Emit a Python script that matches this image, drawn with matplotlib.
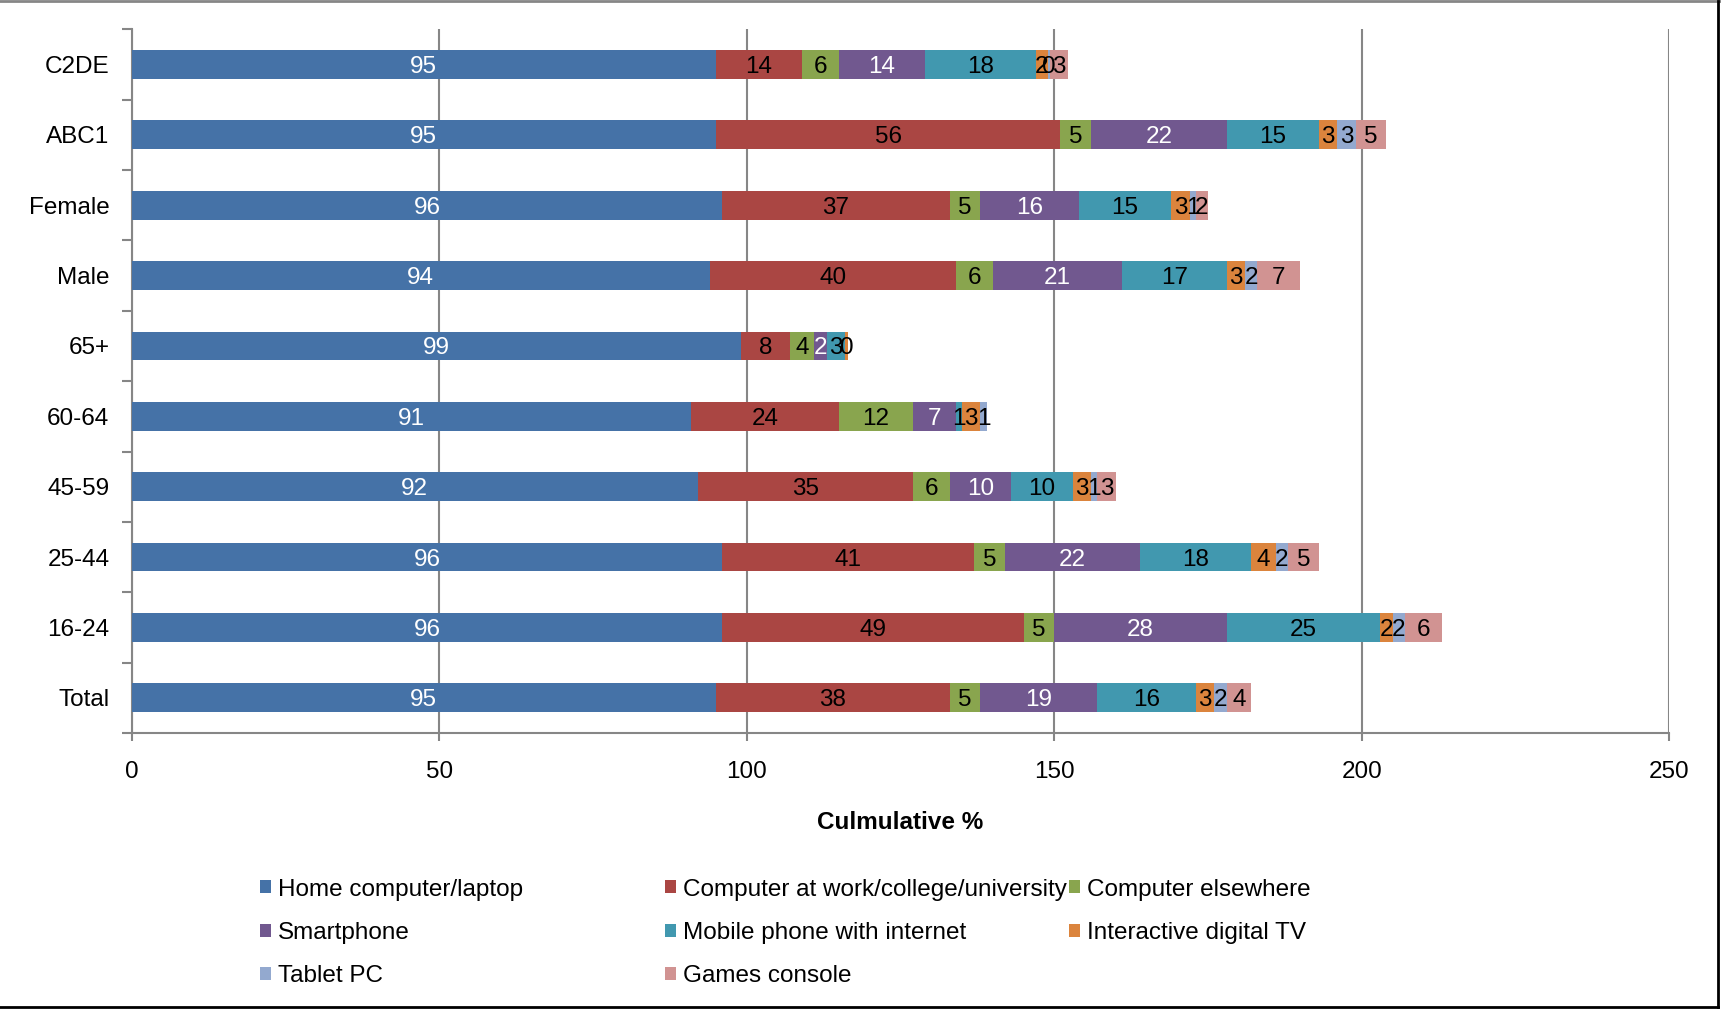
import matplotlib
matplotlib.use("Agg")
import matplotlib.pyplot as plt
import numpy as np
from matplotlib.patches import Patch
from matplotlib.lines import Line2D

plt.rcParams['font.family'] = ['Liberation Sans', 'DejaVu Sans']

# Categories listed bottom-to-top
categories = ["Total", "16-24", "25-44", "45-59", "60-64", "65+",
              "Male", "Female", "ABC1", "C2DE"]

series_names = ["Home computer/laptop", "Computer at work/college/university",
                "Computer elsewhere", "Smartphone", "Mobile phone with internet",
                "Interactive digital TV", "Tablet PC", "Games console"]

home_computer = [95, 96, 96, 92, 91, 99, 94, 96, 95, 95]
computer_work = [38, 49, 41, 35, 24, 8, 40, 37, 56, 14]
computer_elsewhere = [5, 5, 5, 6, 12, 4, 6, 5, 5, 6]
smartphone = [19, 28, 22, 10, 7, 2, 21, 16, 22, 14]
mobile_internet = [16, 25, 18, 10, 1, 3, 17, 15, 15, 18]
interactive_tv = [3, 2, 4, 3, 3, 0.45, 3, 3, 3, 2]
tablet_pc = [2, 2, 2, 1, 1, 0, 2, 1, 3, 0.3]
games_console = [4, 6, 5, 3, 0, 0, 7, 2, 5, 3]

series = [home_computer, computer_work, computer_elsewhere, smartphone,
          mobile_internet, interactive_tv, tablet_pc, games_console]

colors = ["#4572A7", "#AA4643", "#89A54E", "#71588F",
          "#4198AF", "#DB843D", "#93A9CF", "#D19392"]
label_colors = ["white", "black", "black", "white",
                "black", "black", "black", "black"]

FS = 17.5

fig = plt.figure(figsize=(17.21, 10.11), dpi=100)
ax = fig.add_axes([0.0765, 0.275, 0.8935, 0.696])

y = np.arange(len(categories))
left = np.zeros(len(categories))
for vals, col, lcol in zip(series, colors, label_colors):
    vals = np.array(vals, dtype=float)
    ax.barh(y, vals, left=left, height=0.41, color=col, zorder=3)
    for yi, (l, v) in enumerate(zip(left, vals)):
        if v > 0:
            ax.text(l + v / 2, yi, f"{v:.0f}", ha="center",
                    va="center_baseline", color=lcol, fontsize=FS, zorder=4)
    left += vals

ax.set_xlim(0, 250)
ax.set_ylim(-0.5, len(categories) - 0.5)

# x axis
ax.set_xticks(np.arange(0, 251, 50))
ax.tick_params(axis="x", length=6, width=1.5, color="#868686",
               labelsize=FS, pad=14, direction="out")
ax.xaxis.grid(True, color="#868686", lw=1.5, zorder=0)
ax.set_axisbelow(True)
ax.set_xlabel("Culmulative %", fontsize=FS, fontweight="bold", labelpad=20)

# y axis: tick marks at category boundaries, labels at centres
ax.set_yticks(np.arange(-0.5, len(categories), 1.0))
ax.set_yticklabels([])
ax.tick_params(axis="y", which="major", length=7, width=1.5, color="#868686")
ax.set_yticks(y, minor=True)
ax.set_yticklabels(categories, minor=True, fontsize=FS)
ax.tick_params(axis="y", which="minor", length=0, pad=16)

for s in ["top", "right"]:
    ax.spines[s].set_visible(False)
for s in ["left", "bottom"]:
    ax.spines[s].set_color("#868686")
    ax.spines[s].set_linewidth(1.5)

# Legend: three fixed-width columns, filled row by row
handles = [Patch(facecolor=c, edgecolor="none") for c in colors]
col_x = [0.151, 0.3865, 0.621]
for ci in range(3):
    idx = list(range(ci, len(series_names), 3))
    leg = fig.legend([handles[i] for i in idx], [series_names[i] for i in idx],
                     loc="upper left", bbox_to_anchor=(col_x[ci], 0.131),
                     frameon=False, fontsize=FS, handlelength=0.45,
                     handleheight=0.45, handletextpad=0.3, labelspacing=0.88,
                     borderpad=0, borderaxespad=0)

# Chart-area border
fig.add_artist(Line2D([0, 1], [0.999, 0.999], color="#868686", lw=2,
                      transform=fig.transFigure))
fig.add_artist(Line2D([0.9985, 0.9985], [0.004, 0.999], color="black", lw=2,
                      transform=fig.transFigure))
fig.add_artist(Line2D([0, 0.9985], [0.004, 0.004], color="black", lw=2,
                      transform=fig.transFigure))

fig.savefig("out.png", dpi=100)
